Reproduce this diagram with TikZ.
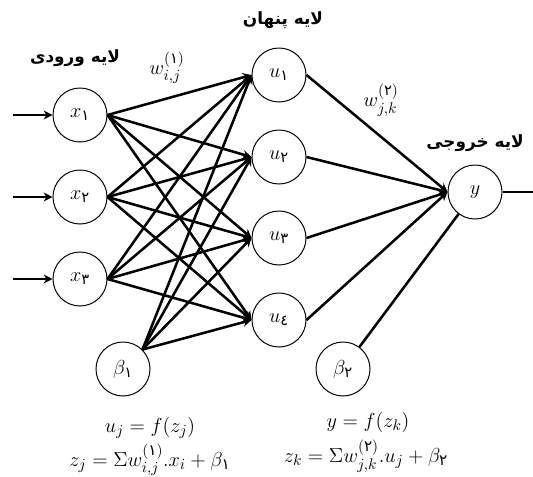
\documentclass[tikz,border=0pt]{standalone}
\usepackage{amsmath}
\usepackage{fontspec}
\newfontfamily\farsifont[Script=Arabic]{DejaVu Sans}
\TeXXeTstate=1
\usetikzlibrary{arrows.meta}
\newcommand{\fd}[1]{\text{\farsifont #1}}
\tikzset{
  neuronnode/.style={circle,draw,line width=0.7pt,
    minimum size=1.35cm,inner sep=0pt,font=\fontsize{15}{17}\selectfont},
  layertitle/.style={font=\farsifont\bfseries\fontsize{12}{14}\selectfont},
  weightlabel/.style={font=\fontsize{15}{17}\selectfont},
  formulatext/.style={font=\fontsize{15.5}{18}\selectfont},
  weightedge/.style={draw,line width=1.8pt,-{Stealth[length=2.2mm,width=2.2mm]}},
  plainedge/.style={draw,line width=1.8pt}
}

\begin{document}
\begin{tikzpicture}[x=0.025cm,y=-0.025cm]
  \useasboundingbox (0,0) rectangle (533,476);

  % input layer
  \node[neuronnode] (x1) at (80,115) {$x_{\fd{۱}}$};
  \node[neuronnode] (x2) at (80,197) {$x_{\fd{۲}}$};
  \node[neuronnode] (x3) at (80,279) {$x_{\fd{۳}}$};
  \node[neuronnode] (b1) at (123,369) {$\beta_{\fd{۱}}$};

  % hidden layer
  \node[neuronnode] (u1) at (279,75) {$u_{\fd{۱}}$};
  \node[neuronnode] (u2) at (279,157) {$u_{\fd{۲}}$};
  \node[neuronnode] (u3) at (279,238) {$u_{\fd{۳}}$};
  \node[neuronnode] (u4) at (279,320) {$u_{\fd{٤}}$};
  \node[neuronnode] (b2) at (343,369) {$\beta_{\fd{۲}}$};

  % output layer
  \node[neuronnode] (y) at (475,192) {$y$};

  \coordinate (in1) at (13,115);
  \coordinate (in2) at (13,197);
  \coordinate (in3) at (13,279);
  \coordinate (out) at (533,192);

  \draw[weightedge] (in1) -- (x1);
  \draw[weightedge] (in2) -- (x2);
  \draw[weightedge] (in3) -- (x3);
  \draw[plainedge] (y) -- (out);

  \path (x1.east) edge[weightedge] (u1.west) edge[weightedge] (u2.west)
    edge[weightedge] (u3.west) edge[weightedge] (u4.west);
  \path (x2.east) edge[weightedge] (u1.west) edge[weightedge] (u2.west)
    edge[weightedge] (u3.west) edge[weightedge] (u4.west);
  \path (x3.east) edge[weightedge] (u1.west) edge[weightedge] (u2.west)
    edge[weightedge] (u3.west) edge[weightedge] (u4.west);
  \path (b1.45) edge[weightedge] (u1.west) edge[weightedge] (u2.west)
    edge[weightedge] (u3.west) edge[weightedge] (u4.west);
  \draw[weightedge] (u1.east) -- (y.west);
  \draw[weightedge] (u2.east) -- (y.west);
  \draw[weightedge] (u3.east) -- (y.west);
  \draw[weightedge] (u4.east) -- (y.west);
  \draw[plainedge] (b2) -- (y);

  % labels
  \node[layertitle] (tin) at (75,58) {\beginR لایه ورودی\endR};
  \node[layertitle] (thid) at (283,20) {\beginR لایه پنهان\endR};
  \node[layertitle] (tout) at (475,143) {\beginR لایه خروجی\endR};
  \node[weightlabel] (w1) at (167,68) {$w^{(\fd{۱})}_{i,j}$};
  \node[weightlabel] (w2) at (381,100) {$w^{(\fd{۲})}_{j,k}$};

  \node[formulatext] (fu) at (150,428) {$u_j=f(z_j)$};
  \node[formulatext] (fz) at (150,460)
    {$z_j=\Sigma w^{(\fd{۱})}_{i,j}.x_i+\beta_{\fd{۱}}$};
  \node[formulatext] (fy) at (368,422) {$y=f(z_k)$};
  \node[formulatext] (fk) at (366,456)
    {$z_k=\Sigma w^{(\fd{۲})}_{j,k}.u_j+\beta_{\fd{۲}}$};
\end{tikzpicture}
\end{document}
